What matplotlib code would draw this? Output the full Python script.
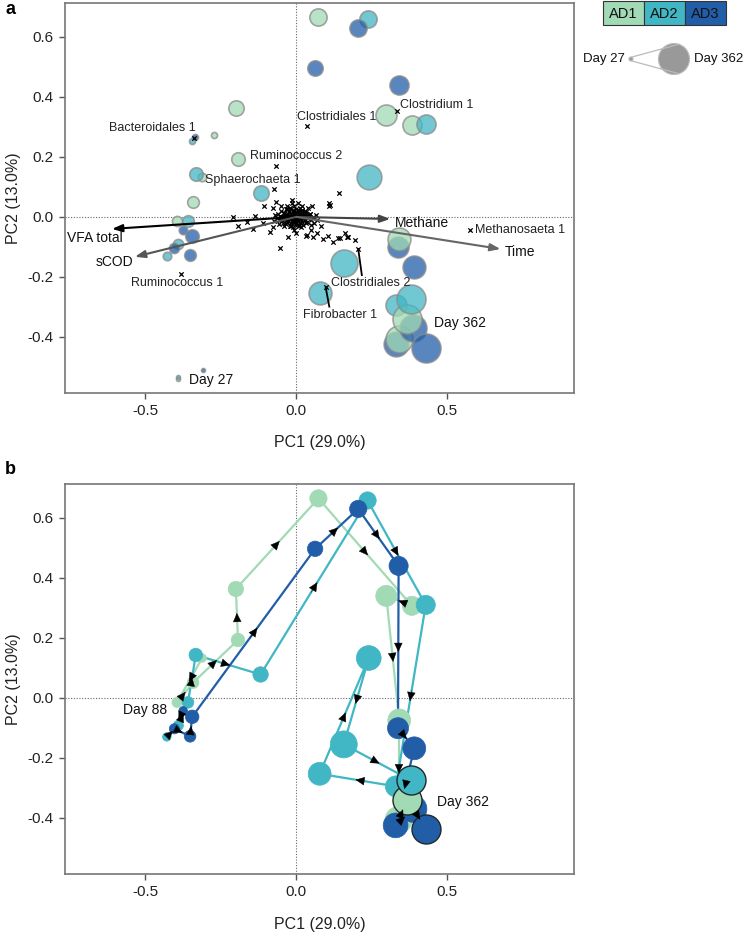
import matplotlib
matplotlib.use("Agg")
import matplotlib.pyplot as plt
from matplotlib.patches import Rectangle, Circle
import numpy as np

plt.rcParams["font.family"] = ["Liberation Sans", "DejaVu Sans"]

# ---- sample scores (PC1, PC2) per reactor, in time order ----
ad1_day = [27, 55, 88, 110, 130, 155, 180, 205, 230, 255, 280, 335, 362]
ad1_pc1 = [-0.392, -0.272, -0.312, -0.395, -0.342, -0.193, -0.200, 0.074, 0.384, 0.299, 0.342, 0.340, 0.368]
ad1_pc2 = [-0.540, 0.273, 0.133, -0.015, 0.051, 0.193, 0.363, 0.665, 0.307, 0.340, -0.075, -0.407, -0.340]

ad2_day = [27, 55, 88, 110, 130, 155, 180, 205, 230, 255, 280, 305, 335, 362]
ad2_pc1 = [-0.392, -0.345, -0.429, -0.391, -0.359, -0.333, -0.118, 0.237, 0.430, 0.331, 0.078, 0.241, 0.158, 0.382]
ad2_pc2 = [-0.532, 0.253, -0.130, -0.092, -0.015, 0.143, 0.078, 0.658, 0.310, -0.295, -0.253, 0.133, -0.155, -0.275]

ad3_day = [27, 55, 88, 110, 130, 155, 180, 205, 230, 255, 280, 305, 335, 362]
ad3_pc1 = [-0.309, -0.336, -0.375, -0.404, -0.352, -0.345, 0.063, 0.206, 0.340, 0.338, 0.392, 0.330, 0.389, 0.432]
ad3_pc2 = [-0.510, 0.267, -0.043, -0.103, -0.128, -0.063, 0.497, 0.630, 0.440, -0.101, -0.168, -0.425, -0.370, -0.438]

reactors = ["AD1", "AD2", "AD3"]
colors = ["#a1dab4", "#41b6c4", "#225ea8"]

# ---- environmental vectors ----
env_names = ["VFA total", "sCOD", "Methane", "Time"]
env_pc1 = [-0.611, -0.535, 0.312, 0.678]
env_pc2 = [-0.040, -0.133, -0.007, -0.107]

# ---- labelled OTU loadings ----
otu_names = ["Bacteroidales 1", "Clostridiales 1", "Clostridium 1", "Ruminococcus 2",
             "Sphaerochaeta 1", "Ruminococcus 1", "Clostridiales 2", "Fibrobacter 1",
             "Methanosaeta 1"]
otu_pc1 = [-0.338, 0.037, 0.335, -0.066, -0.073, -0.382, 0.206, 0.098, 0.578]
otu_pc2 = [0.262, 0.303, 0.353, 0.170, 0.093, -0.190, -0.107, -0.235, -0.043]

# ---- other (unlabelled) OTU loadings ----
other_pc1 = [0.143, 0.110, 0.053, -0.106, -0.066, -0.076, -0.013, -0.209, -0.136,
             -0.193, -0.163, -0.143, -0.110, -0.086, -0.076, -0.053, -0.027, 0.000,
             0.037, 0.056, 0.070, 0.090, 0.106, 0.140, 0.169, 0.110, 0.033, 0.050,
             0.083, 0.123, 0.146, 0.163, 0.173, 0.196, 0.113,
             -0.060, -0.055, -0.050, -0.048, -0.045, -0.040, -0.038, -0.035, -0.033, -0.030,
             -0.028, -0.025, -0.022, -0.020, -0.020, -0.018, -0.015, -0.012, -0.010, -0.010,
             -0.008, -0.005, -0.003, 0.000, 0.000, 0.003, 0.005, 0.008, 0.010, 0.012,
             0.015, 0.018, 0.020, 0.022, 0.025, 0.028, 0.030, 0.033, 0.036, 0.040,
             0.045, 0.050, 0.055, -0.065, -0.070, 0.060, 0.065, -0.030, 0.020, -0.040,
             0.015, -0.015, 0.005, -0.050, 0.040, -0.058, 0.048, 0.070, -0.075, -0.008,
             -0.004, 0.002, -0.012, 0.008, -0.025, 0.026, -0.042, 0.034,
             -0.044, -0.036, -0.029, -0.021, -0.014, -0.006, 0.001, 0.009, 0.016, 0.024,
             0.031, 0.038, -0.040, -0.032, -0.024, -0.016, -0.009, -0.001, 0.006, 0.014,
             0.021, 0.029, 0.036, -0.037, -0.027, -0.018, -0.011, -0.002, 0.007, 0.017,
             0.027, -0.032, -0.020, -0.007, 0.004, 0.013, 0.023, -0.052, 0.043, -0.046,
             0.046, -0.017, 0.011]
other_pc2 = [0.080, 0.037, 0.037, 0.037, 0.050, 0.030, 0.057, 0.000, 0.003,
             -0.030, -0.017, -0.040, -0.020, -0.050, -0.033, -0.103, -0.067, -0.053,
             -0.060, -0.067, -0.053, -0.073, -0.063, -0.070, -0.067, 0.047, -0.063, -0.043,
             -0.030, -0.083, -0.070, -0.053, -0.067, -0.077, 0.040,
             0.010, -0.010, 0.020, 0.000, -0.020, 0.012, -0.008, 0.025, -0.025, 0.005,
             -0.015, 0.018, -0.003, 0.030, -0.030, 0.008, -0.018, 0.020, 0.000, -0.035,
             0.035, -0.010, 0.012, -0.022, 0.025, 0.002, -0.012, 0.018, -0.028, 0.006,
             -0.008, 0.022, -0.018, 0.000, 0.012, -0.010, 0.020, -0.020, 0.005, -0.005,
             0.010, -0.012, 0.000, -0.005, 0.005, -0.020, 0.005, 0.035, 0.035, -0.030,
             -0.035, 0.045, 0.045, 0.035, 0.028, -0.025, -0.028, -0.010, -0.015, -0.045,
             0.004, -0.004, -0.006, 0.010, 0.002, -0.002, 0.000, 0.015,
             -0.004, 0.006, -0.010, 0.004, -0.014, 0.008, -0.006, 0.012, -0.002, 0.008,
             -0.012, 0.002, 0.014, -0.016, 0.016, -0.020, 0.022, -0.024, 0.024, -0.022,
             0.018, 0.012, -0.016, -0.002, 0.010, 0.000, -0.008, 0.016, 0.000, -0.006,
             0.004, 0.026, 0.028, -0.018, -0.028, 0.030, -0.026, 0.003, -0.002, -0.010,
             0.010, -0.030, -0.032]

xticks = [-0.5, 0.0, 0.5]
yticks = [-0.4, -0.2, 0.0, 0.2, 0.4, 0.6]
xlim = (-0.767, 0.922)
ylim = (-0.587, 0.713)

W, H = 744, 932
fig = plt.figure(figsize=(W / 100, H / 100), dpi=100)


def px_axes(left, top, right, bottom):
    return fig.add_axes([left / W, 1 - bottom / H, (right - left) / W, (bottom - top) / H])


def radius(day):
    return 2 + (day - 27) / 335 * 12.5


def msize(day):
    return (2 * radius(np.asarray(day)) * 0.72) ** 2


def style_axes(ax):
    ax.set_xlim(*xlim)
    ax.set_ylim(*ylim)
    ax.set_xticks(xticks)
    ax.set_xticklabels(["-0.5", "0.0", "0.5"])
    ax.set_yticks(yticks)
    ax.set_yticklabels(["-0.4", "-0.2", "0.0", "0.2", "0.4", "0.6"])
    ax.tick_params(direction="out", length=4, width=1, colors="#555555",
                   labelcolor="#222222", labelsize=11, pad=4)
    for s in ax.spines.values():
        s.set_color("#777777")
        s.set_linewidth(1.2)
    ax.axhline(0, color="#666666", lw=0.8, ls=(0, (1, 1.5)), zorder=0)
    ax.axvline(0, color="#666666", lw=0.8, ls=(0, (1, 1.5)), zorder=0)


data = [(ad1_day, ad1_pc1, ad1_pc2), (ad2_day, ad2_pc1, ad2_pc2), (ad3_day, ad3_pc1, ad3_pc2)]

# ================= panel a =================
axa = px_axes(65, 3, 574, 393)
style_axes(axa)

# samples, drawn smallest (earliest) first
pts = []
for (days, xs, ys), c in zip(data, colors):
    for d, x, y in zip(days, xs, ys):
        pts.append((d, x, y, c))
pts.sort(key=lambda p: p[0])
for d, x, y, c in pts:
    axa.scatter(x, y, s=msize(d), color=c, alpha=0.75, edgecolors="#8a8a8a",
                linewidths=1.2, zorder=3)

# OTU loadings
axa.scatter(other_pc1, other_pc2, marker="x", s=10, color="black", linewidths=0.9, zorder=4)
axa.scatter(otu_pc1, otu_pc2, marker="x", s=10, color="black", linewidths=0.9, zorder=4)

otu_label = {
    "Bacteroidales 1": ((-0.478, 0.297), "center"),
    "Clostridiales 1": ((0.133, 0.333), "center"),
    "Clostridium 1": ((0.345, 0.373), "left"),
    "Ruminococcus 2": ((0.000, 0.203), "center"),
    "Sphaerochaeta 1": ((-0.143, 0.123), "center"),
    "Ruminococcus 1": ((-0.395, -0.222), "center"),
    "Clostridiales 2": ((0.246, -0.222), "center"),
    "Fibrobacter 1": ((0.146, -0.327), "center"),
    "Methanosaeta 1": ((0.592, -0.043), "left"),
}
for name, x, y in zip(otu_names, otu_pc1, otu_pc2):
    (lx, ly), ha = otu_label[name]
    axa.text(lx, ly, name, ha=ha, va="center", fontsize=9, color="#222222", zorder=6)
    if name in ("Clostridiales 2", "Fibrobacter 1"):
        axa.plot([x, x + 0.012], [y, ly + 0.028], color="black", lw=1.3, zorder=5)

# environmental vectors
env_color = ["black", "#555555", "#444444", "#666666"]
env_label = {
    "VFA total": ((-0.761, -0.072), "left"),
    "sCOD": ((-0.542, -0.150), "right"),
    "Methane": ((0.329, -0.020), "left"),
    "Time": ((0.691, -0.117), "left"),
}
for name, x, y, c in zip(env_names, env_pc1, env_pc2, env_color):
    axa.annotate("", xy=(x, y), xytext=(0, 0),
                 arrowprops=dict(arrowstyle="-|>,head_length=0.6,head_width=0.22",
                                 color=c, lw=1.5, shrinkA=0, shrinkB=0), zorder=5)
    (lx, ly), ha = env_label[name]
    axa.text(lx, ly, name, ha=ha, va="center", fontsize=10, color="#111111", zorder=6)

axa.text(-0.355, -0.545, "Day 27", ha="left", va="center", fontsize=10, color="#111111")
axa.text(0.458, -0.353, "Day 362", ha="left", va="center", fontsize=10, color="#111111")

# ================= panel b =================
axb = px_axes(65, 484, 574, 874)
style_axes(axb)


def mid_arrow(ax, x0, y0, x1, y1):
    xm, ym = (x0 + x1) / 2, (y0 + y1) / 2
    dx, dy = (x1 - x0) * 0.03, (y1 - y0) * 0.03
    ax.annotate("", xy=(xm + dx, ym + dy), xytext=(xm - dx, ym - dy),
                arrowprops=dict(arrowstyle="-|>,head_length=0.6,head_width=0.28",
                                color="black", lw=0.3, shrinkA=0, shrinkB=0),
                zorder=7)


for (days, xs, ys), c in zip(data, colors):
    keep = [i for i, d in enumerate(days) if d >= 88]
    d = [days[i] for i in keep]
    x = [xs[i] for i in keep]
    y = [ys[i] for i in keep]
    axb.plot(x, y, color=c, lw=1.6, zorder=2)
    axb.scatter(x[:-1], y[:-1], s=msize(d[:-1]), color=c, edgecolors=c, linewidths=0.5, zorder=3)
    axb.scatter(x[-1:], y[-1:], s=msize(d[-1:]), color=c, edgecolors="#1e2a2a", linewidths=1.0, zorder=4)
    for i in range(len(x) - 1):
        mid_arrow(axb, x[i], y[i], x[i + 1], y[i + 1])

axb.text(-0.50, -0.040, "Day 88", ha="center", va="center", fontsize=10, color="#111111")
axb.text(0.468, -0.347, "Day 362", ha="left", va="center", fontsize=10, color="#111111")

# axis titles
for top, bottom in [(3, 393), (484, 874)]:
    fig.text(14 / W, 1 - (top + bottom) / 2 / H, "PC2 (13.0%)", rotation=90,
             ha="center", va="center", fontsize=11.5, color="#222222")
    fig.text(319.5 / W, 1 - (bottom + 50) / H, "PC1 (29.0%)", ha="center", va="center",
             fontsize=11.5, color="#222222")

# ================= overlay: panel letters and legend =================
ov = fig.add_axes([0, 0, 1, 1])
ov.set_xlim(0, W)
ov.set_ylim(H, 0)
ov.axis("off")
ov.text(5, 10, "a", fontsize=13, fontweight="bold", ha="left", va="center")
ov.text(5, 470, "b", fontsize=13, fontweight="bold", ha="left", va="center")

bx = 603
for name, c in zip(reactors, colors):
    ov.add_patch(Rectangle((bx, 1), 41, 24, facecolor=c, edgecolor="#333333", lw=0.8))
    ov.text(bx + 20.5, 13.5, name, ha="center", va="center", fontsize=10.5, color="#111111")
    bx += 41

# size legend
sx, sy, sr = 631, 59, radius(27)
bx_, br = 674, radius(362) + 1
ang = np.arccos((br - sr) / (bx_ - sx))
for sgn in (1, -1):
    ov.plot([sx + sr * np.cos(ang), bx_ + br * np.cos(ang)],
            [sy - sgn * sr * np.sin(ang), sy - sgn * br * np.sin(ang)],
            color="#bbbbbb", lw=0.9)
ov.add_patch(Circle((sx, sy), sr, facecolor="#999999", edgecolor="#bbbbbb", lw=0.8))
ov.add_patch(Circle((bx_, sy), br, facecolor="#999999", edgecolor="#bbbbbb", lw=0.8))
ov.text(625, sy, "Day 27", ha="right", va="center", fontsize=9.5, color="#111111")
ov.text(694, sy, "Day 362", ha="left", va="center", fontsize=9.5, color="#111111")

fig.savefig("out.png", dpi=100)
